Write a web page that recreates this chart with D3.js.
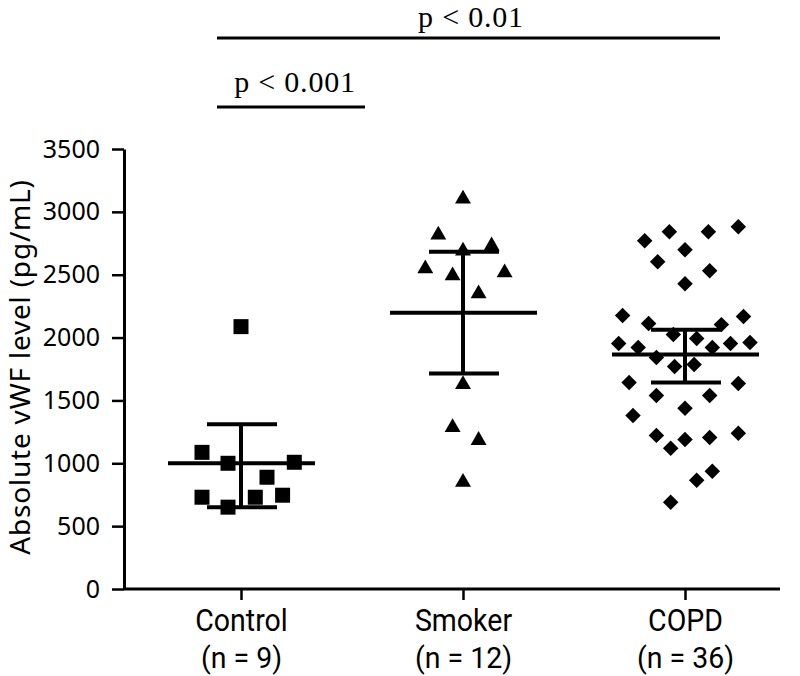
<!DOCTYPE html>
<html><head><meta charset="utf-8">
<script src="https://cdn.jsdelivr.net/npm/d3@7"></script>
<style>body{margin:0;background:#fff}svg{display:block}</style>
</head><body>
<script>
const categories = ["Control", "Smoker", "COPD"];
const nLabels = ["(n = 9)", "(n = 12)", "(n = 36)"];
const yTicks = [0, 500, 1000, 1500, 2000, 2500, 3000, 3500];

// values (pg/mL) and horizontal jitter slot for each dot
const controlValues = [2087, 1087, 1000, 1008, 889, 730, 651, 730, 746];
const controlSlots  = [0, -3, -1, 4.1, 2, -3, -1, 1.1, 3.2];
const smokerValues  = [3103, 2817, 2690, 2730, 2548, 2492, 2516, 2349, 1627, 1286, 1183, 849];
const smokerSlots   = [0, -1.9, 0, 2.2, -2.9, -0.8, 3.2, 1.2, 0, -0.8, 1.2, 0];
const copdValues = [2770, 2841, 2841, 2881, 2698, 2603, 2532, 2429, 2175, 2167, 2111, 2103,
  2024, 1992, 1952, 1921, 1921, 1952, 1960, 1841, 1770, 1786, 1643, 1635, 1540, 1540,
  1437, 1381, 1222, 1190, 1206, 1238, 1119, 937, 865, 690];
const copdSlots = [-3.1, -1.2, 1.8, 4.1, 0, -2.1, 1.9, 0, -4.8, 4.5, -2.8, 2.8,
  -0.9, 0.9, -5.1, -3.6, 2.1, 3.5, 5.0, -2.2, -0.8, 0.7, -4.3, 4.1, -2.2, 1.9,
  0, -4, -2.2, 0, 1.9, 4.1, -1.1, 2.1, 0.9, -1.1];

const means  = [1000, 2198, 1865];
const uppers = [1310, 2683, 2063];
const lowers = [651, 1714, 1643];

const sigLabels = ["p < 0.01", "p < 0.001"];

const W = 800, H = 676;
const svg = d3.select("body").append("svg").attr("width", W).attr("height", H);

const plotLeft = 124, plotRight = 780, plotTop = 149, plotBottom = 589;
const y = d3.scaleLinear().domain([0, 3500]).range([plotBottom, plotTop]);
const x = d3.scalePoint().domain(categories).range([241, 685]);
const slot = d3.scaleLinear().domain([0, 1]).range([0, 13]);

const axisFont = "'Noto Sans', 'Open Sans', sans-serif";
const catFont = "Roboto, 'Noto Sans', sans-serif";

// Y axis
const yAxis = svg.append("g").attr("transform", `translate(${plotLeft},0)`)
  .call(d3.axisLeft(y).tickValues(yTicks).tickSize(12).tickPadding(12).tickSizeOuter(0).tickFormat(d3.format("d")));
yAxis.select(".domain").attr("stroke", "#000").attr("stroke-width", 3);
yAxis.selectAll(".tick line").attr("stroke", "#000").attr("stroke-width", 2.5);
yAxis.selectAll(".tick text").attr("font-family", axisFont).attr("font-size", 25).attr("fill", "#000");

// X axis
const xAxis = svg.append("g").attr("transform", `translate(0,${plotBottom})`)
  .call(d3.axisBottom(x).tickSize(11).tickSizeOuter(0).tickFormat(() => ""));
xAxis.select(".domain").attr("d", `M${plotLeft},0H${plotRight}`).attr("stroke", "#000").attr("stroke-width", 3);
xAxis.selectAll(".tick line").attr("stroke", "#000").attr("stroke-width", 2.5);
xAxis.selectAll(".tick").each(function(d, i) {
  const g = d3.select(this);
  g.append("text").attr("transform", "translate(0,42) scale(0.92,1)").attr("text-anchor", "middle")
    .attr("font-family", catFont).attr("font-size", 31).attr("fill", "#000").text(d);
  g.append("text").attr("transform", "translate(0,79) scale(0.95,1)").attr("text-anchor", "middle")
    .attr("font-family", catFont).attr("font-size", 30).attr("fill", "#000").text(nLabels[i]);
});

// Y title
svg.append("text")
  .attr("transform", `translate(30,367) rotate(-90)`)
  .attr("text-anchor", "middle").attr("font-family", axisFont).attr("font-size", 28)
  .attr("letter-spacing", 0.8)
  .attr("fill", "#000").text("Absolute vWF level (pg/mL)");

// Points
const groups = [
  {cat: "Control", vals: controlValues, slots: controlSlots, sym: d3.symbolSquare, size: 225, rot: 0},
  {cat: "Smoker", vals: smokerValues, slots: smokerSlots, sym: d3.symbolTriangle, size: 110, rot: 0},
  {cat: "COPD", vals: copdValues, slots: copdSlots, sym: d3.symbolSquare, size: 120, rot: 45}
];
groups.forEach(g => {
  svg.append("g").selectAll("path").data(g.vals).join("path")
    .attr("d", d3.symbol().type(g.sym).size(g.size))
    .attr("transform", (v, i) => `translate(${x(g.cat) + slot(g.slots[i])},${y(v)}) rotate(${g.rot})`)
    .attr("fill", "#000");
});

// Mean and error bars
const eb = svg.append("g").attr("stroke", "#000").attr("stroke-width", 4);
categories.forEach((c, i) => {
  const cx = x(c);
  eb.append("line").attr("x1", cx).attr("x2", cx).attr("y1", y(uppers[i])).attr("y2", y(lowers[i]));
  eb.append("line").attr("x1", cx - 73).attr("x2", cx + 74).attr("y1", y(means[i])).attr("y2", y(means[i]));
  eb.append("line").attr("x1", cx - 34).attr("x2", cx + 36).attr("y1", y(uppers[i])).attr("y2", y(uppers[i]));
  eb.append("line").attr("x1", cx - 34).attr("x2", cx + 36).attr("y1", y(lowers[i])).attr("y2", y(lowers[i]));
});

// Significance brackets
const serif = "'Liberation Serif', 'DejaVu Serif', serif";
const sig = svg.append("g");
sig.append("line").attr("x1", 217).attr("x2", 720).attr("y1", 38).attr("y2", 38).attr("stroke", "#000").attr("stroke-width", 3);
sig.append("text").attr("x", 471).attr("y", 27).attr("text-anchor", "middle").attr("font-family", serif)
  .attr("font-size", 30).attr("letter-spacing", 0.8).attr("fill", "#000").text(sigLabels[0]);
sig.append("line").attr("x1", 217).attr("x2", 365).attr("y1", 107).attr("y2", 107).attr("stroke", "#000").attr("stroke-width", 3);
sig.append("text").attr("x", 295).attr("y", 92).attr("text-anchor", "middle").attr("font-family", serif)
  .attr("font-size", 30).attr("letter-spacing", 0.8).attr("fill", "#000").text(sigLabels[1]);
</script>
</body></html>
